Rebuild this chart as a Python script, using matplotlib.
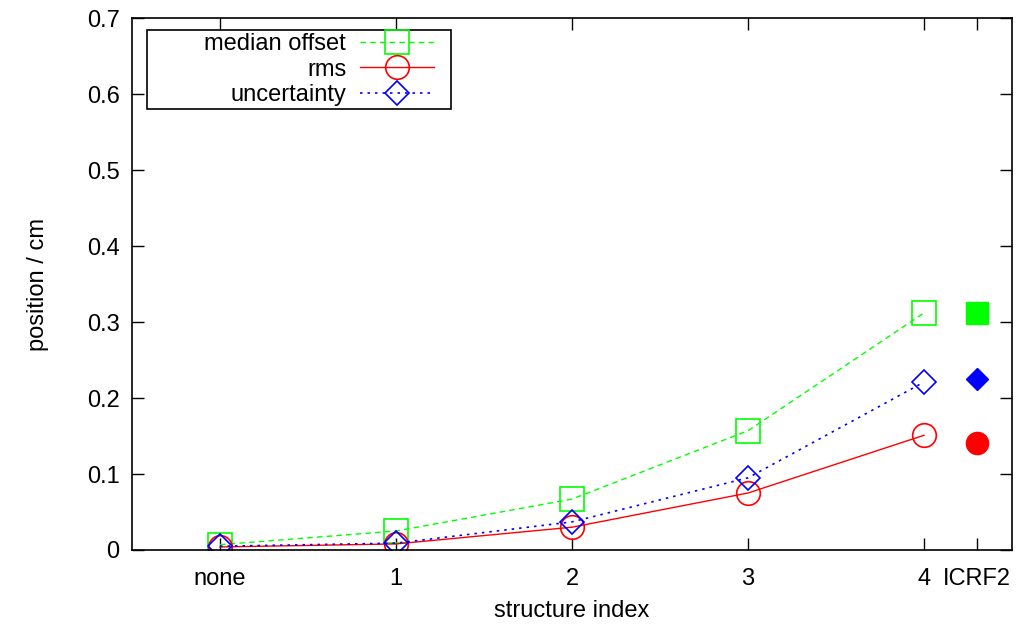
import numpy as np
import matplotlib
matplotlib.use("Agg")
import matplotlib.pyplot as plt
from matplotlib.offsetbox import DrawingArea

plt.rc('font', family='Liberation Sans')

# structure index positions (ICRF2 sits just right of 4)
x_pos = [0, 1, 2, 3, 4]
x_icrf2 = 4.3
tick_labels = ["none", "1", "2", "3", "4", "ICRF2"]

median_offset = [0.007, 0.025, 0.067, 0.157, 0.312]
rms = [0.004, 0.008, 0.030, 0.075, 0.151]
uncertainty = [0.005, 0.009, 0.037, 0.095, 0.221]

icrf2_median = 0.312
icrf2_rms = 0.141
icrf2_unc = 0.225

fs = 17

fig = plt.figure(figsize=(10.17, 6.25), dpi=100)
ax = fig.add_axes([0.1298, 0.12, 0.8653, 0.851])

ax.plot(x_pos, median_offset, color='#00ff00', ls=(0, (4, 3)), lw=1,
        marker='s', ms=17, mfc='none', mec='#00ff00', mew=1.2, label='median offset')
ax.plot(x_pos, rms, color='#ff0000', ls='-', lw=1,
        marker='o', ms=17, mfc='none', mec='#ff0000', mew=1.2, label='rms')
ax.plot(x_pos, uncertainty, color='#0000ff', ls=(0, (1.5, 3)), lw=1.2,
        marker='D', ms=12, mfc='none', mec='#0000ff', mew=1.2, label='uncertainty')

ax.plot([x_icrf2], [icrf2_median], 's', color='#00ff00', ms=16)
ax.plot([x_icrf2], [icrf2_unc], 'D', color='#0000ff', ms=11)
ax.plot([x_icrf2], [icrf2_rms], 'o', color='#ff0000', ms=16)

ax.set_xlim(-0.5, 4.5)
ax.set_ylim(0, 0.7)
ax.set_xticks(x_pos + [x_icrf2])
ax.set_xticklabels(tick_labels)
ax.set_yticks(np.arange(0, 0.71, 0.1))
ax.set_yticklabels(["0", "0.1", "0.2", "0.3", "0.4", "0.5", "0.6", "0.7"])

ax.tick_params(direction='in', length=8.5, width=1, labelsize=fs,
               top=True, right=True, colors='black')
ax.tick_params(axis='x', pad=13)
ax.tick_params(axis='y', pad=9)
for s in ax.spines.values():
    s.set_linewidth(1.2)

ax.set_xlabel("structure index", fontsize=fs, labelpad=7)
ax.set_ylabel("position / cm", fontsize=fs, labelpad=27)

leg = ax.legend(loc='upper left', bbox_to_anchor=(0.017, 0.977, 0.345, 0.0),
                mode='expand', markerfirst=False,
                fontsize=fs, handlelength=3.1, handletextpad=0.6, labelspacing=0.15,
                borderpad=0.12, borderaxespad=0, fancybox=False, framealpha=1)
leg.get_frame().set_edgecolor('black')
leg.get_frame().set_linewidth(1.2)
# gnuplot style key: entries pushed to the right side of the box
col = leg._legend_handle_box.get_children()[0]
for item in col.get_children():
    item.get_children().append(DrawingArea(0, 0))
leg._legend_handle_box.get_children().insert(0, DrawingArea(0, 0))

fig.savefig("out.png", dpi=100)
